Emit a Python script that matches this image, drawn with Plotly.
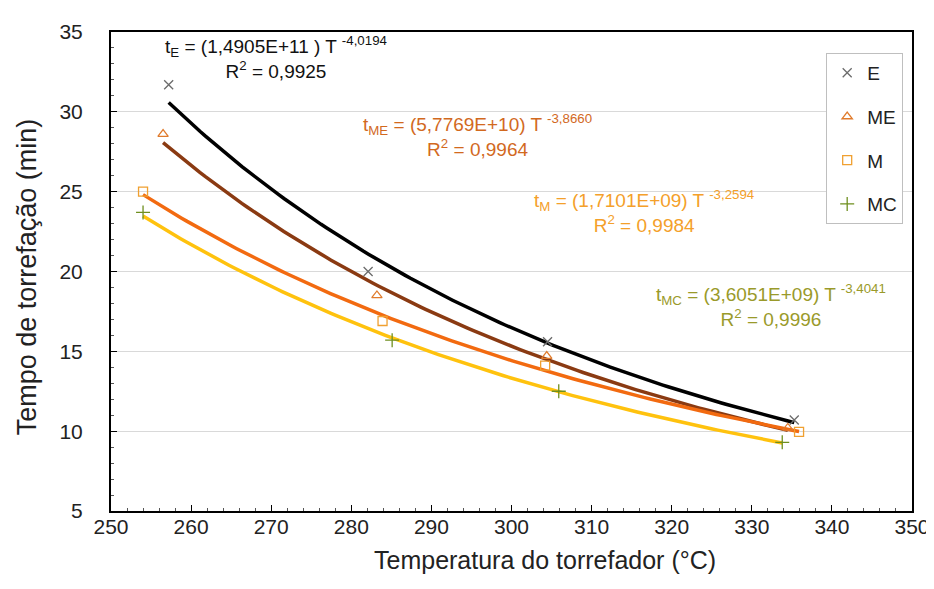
import numpy as np
import plotly.graph_objects as go

# ---- data ----
series_names = ["E", "ME", "M", "MC"]
temp_E = [257.2, 282.1, 304.5, 335.3]
time_E = [31.7, 20.0, 15.6, 10.7]
temp_ME = [256.5, 283.2, 304.4, 334.5]
time_ME = [28.6, 18.5, 14.7, 10.2]
temp_M = [254.0, 283.9, 304.2, 335.9]
time_M = [25.0, 16.9, 14.1, 9.95]
temp_MC = [254.0, 285.1, 305.9, 333.8]
time_MC = [23.7, 15.7, 12.5, 9.3]

# trend-line coefficients as printed on the chart: t = a * T^b
coef_a = [1.4905e11, 5.7769e10, 1.7101e9, 3.6051e9]
coef_b = [-4.0194, -3.8660, -3.2594, -3.4041]
r2_values = ["0,9925", "0,9964", "0,9984", "0,9996"]
eq_a_labels = ["(1,4905E+11 )", "(5,7769E+10)", "(1,7101E+09)", "(3,6051E+09)"]
eq_b_labels = ["-4,0194", "-3,8660", "-3,2594", "-3,4041"]

x_ticks = list(range(250, 351, 10))
y_ticks = list(range(5, 36, 5))
x_title = "Temperatura do torrefador (°C)"
y_title = "Tempo de torrefação (min)"

temps = [temp_E, temp_ME, temp_M, temp_MC]
times = [time_E, time_ME, time_M, time_MC]

marker_symbols = ["x-thin-open", "triangle-up-open", "square-open", "cross-thin-open"]
marker_colors = ["#6b6b6b", "#e07b2c", "#f0a030", "#6f8f1f"]
marker_sizes = [9, 9, 9, 10]
line_colors = ["#000000", "#8a3a12", "#f26a10", "#ffc20e"]
text_colors = ["#111111", "#d2691e", "#f4a02a", "#9a9a2a"]

FONT = "Liberation Sans, Arial, sans-serif"

fig = go.Figure()

# fitted power curves (drawn first so markers sit on top)
for i in range(4):
    T = np.linspace(min(temps[i]), max(temps[i]), 120)
    fig.add_trace(go.Scatter(
        x=T, y=coef_a[i] * T ** coef_b[i], mode="lines",
        line=dict(color=line_colors[i], width=3.5),
        showlegend=False, hoverinfo="skip"))

for i in range(4):
    fig.add_trace(go.Scatter(
        x=temps[i], y=times[i], mode="markers", name=series_names[i],
        legendgroup=series_names[i],
        marker=dict(symbol=marker_symbols[i], color=marker_colors[i],
                    size=marker_sizes[i],
                    line=dict(color=marker_colors[i], width=1.3))))

# equation labels: two-line blocks centred at (x, y) in data coords
label_pos = [(270.6, 33.4), (295.7, 28.5), (316.6, 23.78), (332.4, 17.88)]
subs = ["E", "ME", "M", "MC"]
for i in range(4):
    fig.add_annotation(
        x=label_pos[i][0], y=label_pos[i][1], xref="x", yref="y", showarrow=False,
        align="center",
        text=(f"t<sub>{subs[i]}</sub> = {eq_a_labels[i]} T <sup>{eq_b_labels[i]}</sup>"
              f"<br>R<sup>2</sup> = {r2_values[i]}"),
        font=dict(family=FONT, size=19, color=text_colors[i]))

# axis titles (positions in pixels converted to paper coordinates)
PL, PR, PT, PB = 103, 912, 23, 503
def px_x(p):
    return (p - PL) / (PR - PL)
def px_y(p):
    return (PB - p) / (PB - PT)

fig.add_annotation(x=px_x(541), xref="paper", y=px_y(552), yref="paper",
                   xanchor="center", yanchor="middle", showarrow=False, text=x_title,
                   font=dict(family=FONT, size=25, color="#222222"))
fig.add_annotation(x=px_x(19), xref="paper", y=px_y(268), yref="paper",
                   xanchor="center", yanchor="middle", showarrow=False, text=y_title,
                   textangle=-90, font=dict(family=FONT, size=27, color="#222222"))

fig.update_layout(
    width=934, height=589,
    margin=dict(l=PL, r=934 - PR, t=PT, b=589 - PB),
    paper_bgcolor="white", plot_bgcolor="white",
    font=dict(family=FONT, size=21, color="#222222"),
    legend=dict(x=0.989, y=px_y(44), xanchor="right", yanchor="top",
                bordercolor="#bfbfbf", borderwidth=1, bgcolor="white",
                font=dict(size=19, color="#222222"), tracegroupgap=16,
                itemwidth=30),
    xaxis=dict(range=[250, 350], tickvals=x_ticks, showgrid=False,
               showline=True, linecolor="black", linewidth=2, mirror=True,
               ticks="inside", ticklen=6, tickcolor="black",
               minor=dict(ticks="inside", dtick=2, ticklen=3, tickcolor="#555555"),
               zeroline=False, ticklabelstandoff=-4),
    yaxis=dict(range=[5, 35], tickvals=y_ticks, showgrid=True, gridcolor="#d9d9d9",
               gridwidth=1, showline=True, linecolor="black", linewidth=2, mirror=True,
               ticks="inside", ticklen=6, tickcolor="black",
               minor=dict(ticks="inside", dtick=1, ticklen=3, tickcolor="#555555"),
               zeroline=False, ticklabelstandoff=22),
)

fig.write_html("out.html")
